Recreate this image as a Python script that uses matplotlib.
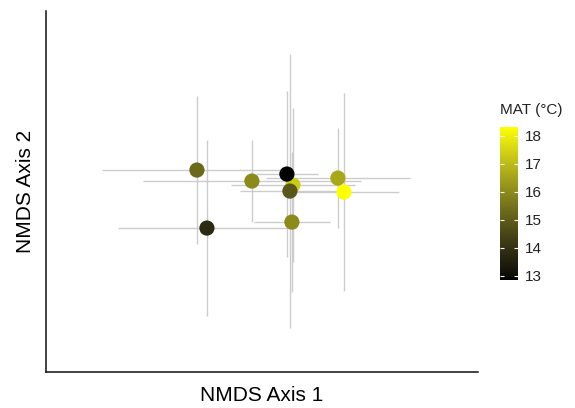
import numpy as np
import matplotlib
matplotlib.use('Agg')
from matplotlib import pyplot as plt
from matplotlib.colors import ListedColormap, Normalize

plt.rcParams['font.family'] = ['Liberation Sans', 'DejaVu Sans']

# NMDS site scores (means) with their error half-widths, and mean annual temperature
nmds1 = [-0.093, -0.083, -0.038, 0.003, -0.003, 0.000, 0.002, 0.048, 0.054]
nmds2 = [0.020, -0.038, 0.009, 0.005, 0.016, -0.001, -0.032, 0.012, -0.002]
err1 = [0.095, 0.089, 0.109, 0.062, 0.031, 0.050, 0.038, 0.072, 0.055]
err2 = [0.074, 0.088, 0.041, 0.077, 0.083, 0.137, 0.070, 0.050, 0.099]
mat = [15.3, 13.8, 16.0, 17.3, 12.86, 14.9, 16.0, 16.6, 18.32]

cbar_ticks = [13, 14, 15, 16, 17, 18]


# black -> yellow gradient interpolated in Lab space (like ggplot's default)
def lab_to_rgb(L, a, b):
    fy = (L + 16) / 116
    fx = fy + a / 500
    fz = fy - b / 200
    def finv(f):
        return np.where(f > 6 / 29, f ** 3, 3 * (6 / 29) ** 2 * (f - 4 / 29))
    X = 0.95047 * finv(fx)
    Y = 1.0 * finv(fy)
    Z = 1.08883 * finv(fz)
    r = 3.2406 * X - 1.5372 * Y - 0.4986 * Z
    g = -0.9689 * X + 1.8758 * Y + 0.0415 * Z
    bb = 0.0557 * X - 0.2040 * Y + 1.0570 * Z
    rgb = np.stack([r, g, bb], axis=-1)
    rgb = np.clip(rgb, 0, 1)
    rgb = np.where(rgb > 0.0031308, 1.055 * rgb ** (1 / 2.4) - 0.055, 12.92 * rgb)
    return np.clip(rgb, 0, 1)

t = np.linspace(0, 1, 256)
yellow_lab = (97.14, -21.55, 94.48)
cmap = ListedColormap(lab_to_rgb(t * yellow_lab[0], t * yellow_lab[1], t * yellow_lab[2]))
norm = Normalize(vmin=min(mat), vmax=max(mat))

fig = plt.figure(figsize=(5.75, 4.08), dpi=100)
ax = fig.add_axes([0.080, 0.088, 0.751, 0.885])

ax.errorbar(nmds1, nmds2, xerr=err1, yerr=err2, fmt='none',
            ecolor='#cccccc', elinewidth=1.0, capsize=0, zorder=1)
ax.scatter(nmds1, nmds2, c=mat, cmap=cmap, norm=norm, s=120,
           edgecolors='none', zorder=3)

ax.set_xlim(-0.244, 0.188)
ax.set_ylim(-0.182, 0.179)
ax.set_xticks([])
ax.set_yticks([])
for side in ['top', 'right']:
    ax.spines[side].set_visible(False)
for side in ['left', 'bottom']:
    ax.spines[side].set_linewidth(1.1)
    ax.spines[side].set_color('#111111')
ax.set_xlabel('NMDS Axis 1', fontsize=15, labelpad=10)
ax.set_ylabel('NMDS Axis 2', fontsize=15, labelpad=8)

cax = fig.add_axes([0.870, 0.314, 0.031, 0.375])
cb = fig.colorbar(plt.cm.ScalarMappable(norm=norm, cmap=cmap), cax=cax, ticks=cbar_ticks)
cb.outline.set_visible(False)
cax.tick_params(which='both', left=True, right=True, direction='in',
                length=3, width=0.8, color='white', labelsize=11,
                labelcolor='#222222', pad=5)
fig.text(0.870, 0.730, 'MAT (°C)', fontsize=11, color='#222222', va='center', ha='left')

plt.savefig('out.png', dpi=100)
